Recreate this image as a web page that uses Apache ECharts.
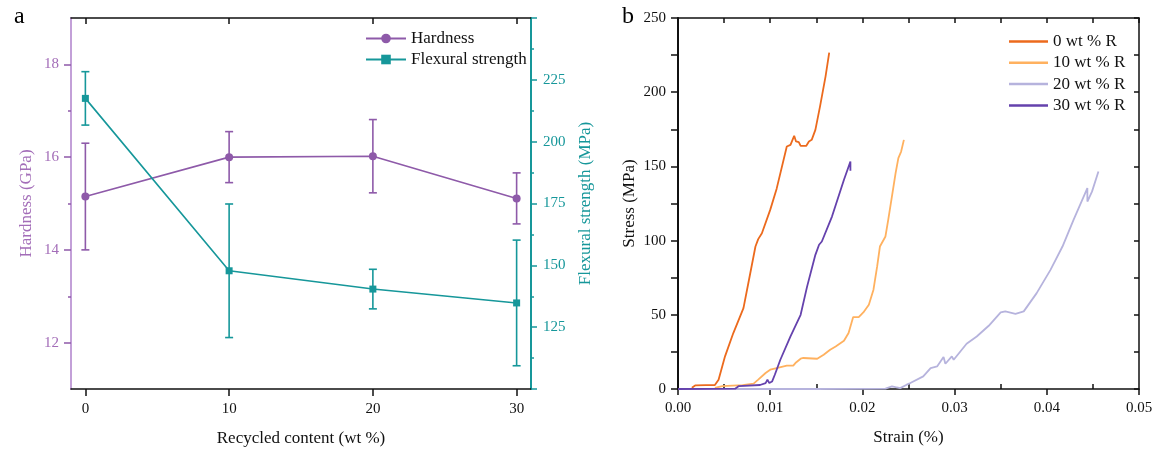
<!DOCTYPE html>
<html>
<head>
<meta charset="utf-8">
<script src="https://cdn.jsdelivr.net/npm/echarts@6/dist/echarts.min.js"></script>
<style>html,body{margin:0;padding:0;background:#fff;}#c{width:1162px;height:452px;}</style>
</head>
<body>
<div id="c"></div>
<script>
// ---------- Panel a data ----------
var recycled = [0, 10, 20, 30];
var hardness = [15.15, 16.0, 16.02, 15.11];
var hardnessErr = [1.15, 0.55, 0.79, 0.55];
var flexural = [217.5, 147.8, 140.4, 134.8];
var flexuralErr = [10.8, 27.0, 8.0, 25.4];
var recycledTicks = [0, 10, 20, 30];
var hardnessTicks = [12, 14, 16, 18];
var hardnessMinorTicks = [13, 15, 17];

// ---------- Panel b data (strain %, stress MPa) ----------
var curve0 = [[0.0015,0.8],[0.0019,2.5],[0.0030,2.6],[0.0040,2.7],[0.0044,6.3],[0.0051,22],[0.0060,37.7],[0.0071,54.5],[0.0077,73.6],[0.0084,96],[0.0087,101],[0.0091,105],[0.0100,120.7],[0.0107,135],[0.0118,163.4],[0.0122,164.5],[0.0126,170.6],[0.0128,166.8],[0.0131,166.3],[0.0133,163.8],[0.0139,163.8],[0.0142,166.8],[0.0145,167.9],[0.0149,174.6],[0.0154,190.3],[0.0160,210.5],[0.0164,226.7]];
var curve10 = [[0.0040,0.8],[0.0048,2.0],[0.0070,2.6],[0.0082,3.6],[0.0087,6.3],[0.0095,10.8],[0.0100,13],[0.0107,14.1],[0.0118,15.7],[0.0125,15.7],[0.0128,17.9],[0.0133,20.4],[0.0136,20.9],[0.0151,20.4],[0.0158,23.1],[0.0165,26.5],[0.0171,28.7],[0.0180,32.5],[0.0185,37.7],[0.0190,48.5],[0.0196,48.5],[0.0201,51.6],[0.0207,56.8],[0.0212,66.9],[0.0216,82.6],[0.0219,96],[0.0222,99.4],[0.0225,102.8],[0.0228,114],[0.0232,129.7],[0.0236,145.5],[0.0239,155.6],[0.0242,160],[0.0245,167.9]];
var curve20 = [[0,0],[0.0150,0],[0.0225,0.3],[0.0232,1.7],[0.0236,1.2],[0.0241,0.6],[0.0248,2.9],[0.0252,4],[0.0266,8.5],[0.0274,14.1],[0.0281,15.2],[0.0288,21.5],[0.0290,17],[0.0297,22],[0.0299,19.7],[0.0313,30.5],[0.0324,35.4],[0.0337,42.6],[0.0350,51.6],[0.0355,52.3],[0.0357,53.4],[0.0366,50.7],[0.0375,52.3],[0.0389,64.6],[0.0404,80.3],[0.0417,96],[0.0429,114],[0.0444,135.4],[0.0444,126.3],[0.0449,133],[0.0456,146.5]];
var curve30 = [[0,0],[0.0062,0.2],[0.0064,1.3],[0.0066,2],[0.0089,2.7],[0.0095,4],[0.0097,6.3],[0.0099,4],[0.0102,5],[0.0105,9.6],[0.0111,19.7],[0.0122,35.4],[0.0133,50],[0.0140,69],[0.0149,90.4],[0.0153,97.2],[0.0156,99.4],[0.0167,116.2],[0.0180,141],[0.0187,153.3],[0.0187,147]];
var strainMinorTicks = [0.005, 0.015, 0.025, 0.035, 0.045];
var curveNames = ['0 wt % R', '10 wt % R', '20 wt % R', '30 wt % R'];

var SERIF = '"Liberation Serif", "DejaVu Serif", serif';
var PURPLE = '#8e5aa9', TEAL = '#16979a', PURPLE_AX = '#c3a0d8', PURPLE_TXT = '#a36db8';
var curveColors = ['#ec6a1d', '#ffb15f', '#b6b3dd', '#6542ad'];

function errSeries(x, y, e, yIdx, color) {
  var data = x.map(function (v, i) { return [v, y[i], e[i]]; });
  return {
    type: 'custom', xAxisIndex: 0, yAxisIndex: yIdx, z: 1, silent: true,
    data: data,
    renderItem: function (params, api) {
      var xv = api.value(0), yv = api.value(1), ev = api.value(2);
      var t = api.coord([xv, yv + ev]), b = api.coord([xv, yv - ev]);
      var w = 4, st = { stroke: color, lineWidth: 1.6 };
      return { type: 'group', children: [
        { type: 'line', shape: { x1: t[0], y1: t[1], x2: b[0], y2: b[1] }, style: st },
        { type: 'line', shape: { x1: t[0] - w, y1: t[1], x2: t[0] + w, y2: t[1] }, style: st },
        { type: 'line', shape: { x1: b[0] - w, y1: b[1], x2: b[0] + w, y2: b[1] }, style: st }
      ]};
    }
  };
}

var chart = echarts.init(document.getElementById('c'), null, { renderer: 'canvas' });
var txt = { fontFamily: SERIF, fontSize: 15, color: '#111' };
var nameTxt = { fontFamily: SERIF, fontSize: 17, color: '#111' };
var blackLine = { show: true, onZero: false, lineStyle: { color: '#111', width: 1.5 } };

var option = {
  backgroundColor: '#fff',
  animation: false,
  textStyle: { fontFamily: SERIF },
  title: [
    { text: 'a', left: 9, top: 0, textStyle: { fontFamily: SERIF, fontSize: 24, fontWeight: 'normal', color: '#000' } },
    { text: 'b', left: 617, top: 0, textStyle: { fontFamily: SERIF, fontSize: 24, fontWeight: 'normal', color: '#000' } }
  ],
  legend: [
    { data: ['Hardness', 'Flexural strength'], orient: 'vertical', left: 360, top: 25, itemWidth: 40, itemHeight: 12, itemGap: 4,
      textStyle: { fontFamily: SERIF, fontSize: 17, color: '#111' } },
    { data: curveNames.map(function (n) { return { name: n, icon: 'rect' }; }), orient: 'vertical', left: 1004, top: 28,
      itemWidth: 39, itemHeight: 2.5, itemGap: 4.3,
      textStyle: { fontFamily: SERIF, fontSize: 17, color: '#111' } }
  ],
  grid: [
    { left: 71, right: 631, top: 18, bottom: 62, containLabel: false },
    { left: 678, right: 23, top: 18, bottom: 63, containLabel: false }
  ],
  xAxis: [
    { gridIndex: 0, type: 'value', position: 'bottom', min: -1, max: 31,
      name: 'Recycled content (wt %)', nameLocation: 'middle', nameGap: 41, nameTextStyle: nameTxt,
      axisLine: blackLine, splitLine: { show: false },
      axisTick: { show: true, inside: false, length: 7, customValues: recycledTicks, lineStyle: { color: '#111', width: 1.5 } },
      axisLabel: Object.assign({ margin: 13, customValues: recycledTicks }, txt) },
    { gridIndex: 0, type: 'value', position: 'top', min: -1, max: 31,
      axisLine: blackLine, splitLine: { show: false },
      axisTick: { show: true, inside: true, length: 6, customValues: recycledTicks, lineStyle: { color: '#111', width: 1.5 } },
      axisLabel: { show: false } },
    { gridIndex: 1, type: 'value', position: 'bottom', min: 0, max: 0.05, interval: 0.01,
      name: 'Strain (%)', nameLocation: 'middle', nameGap: 40, nameTextStyle: nameTxt,
      axisLine: blackLine, splitLine: { show: false },
      axisTick: { show: true, inside: false, length: 6, lineStyle: { color: '#111', width: 1.5 } },
      axisLabel: Object.assign({ margin: 12, formatter: function (v) { return v.toFixed(2); } }, txt) },
    { gridIndex: 1, type: 'value', position: 'bottom', min: 0, max: 0.05,
      axisLine: { show: false }, splitLine: { show: false },
      axisTick: { show: true, inside: true, length: 5, customValues: strainMinorTicks, lineStyle: { color: '#111', width: 1.5 } },
      axisLabel: { show: false } },
    { gridIndex: 1, type: 'value', position: 'top', min: 0, max: 0.05, interval: 0.005,
      axisLine: blackLine, splitLine: { show: false },
      axisTick: { show: true, inside: true, length: 5, lineStyle: { color: '#111', width: 1.5 } },
      axisLabel: { show: false } }
  ],
  yAxis: [
    { gridIndex: 0, type: 'value', position: 'left', min: 11, max: 19,
      name: 'Hardness (GPa)', nameLocation: 'middle', nameGap: 36,
      nameTextStyle: { fontFamily: SERIF, fontSize: 17, color: PURPLE_TXT },
      axisLine: { show: true, onZero: false, lineStyle: { color: PURPLE_AX, width: 2 } }, splitLine: { show: false },
      axisTick: { show: true, inside: false, length: 7, customValues: hardnessTicks, lineStyle: { color: PURPLE, width: 1.5 } },
      axisLabel: { margin: 12, customValues: hardnessTicks, fontFamily: SERIF, fontSize: 15, color: PURPLE_TXT } },
    { gridIndex: 0, type: 'value', position: 'right', min: 100, max: 250, interval: 25,
      name: 'Flexural strength (MPa)', nameLocation: 'middle', nameGap: 46, nameRotate: 90,
      nameTextStyle: { fontFamily: SERIF, fontSize: 17, color: TEAL },
      axisLine: { show: true, onZero: false, lineStyle: { color: TEAL, width: 2 } }, splitLine: { show: false },
      axisTick: { show: true, inside: false, length: 6, lineStyle: { color: TEAL, width: 1.5 } },
      minorTick: { show: true, splitNumber: 2, length: 3, lineStyle: { color: TEAL, width: 1.5 } },
      axisLabel: { margin: 12, showMinLabel: false, showMaxLabel: false, fontFamily: SERIF, fontSize: 15, color: TEAL } },
    { gridIndex: 0, type: 'value', position: 'left', min: 11, max: 19,
      axisLine: { show: false, onZero: false }, splitLine: { show: false },
      axisTick: { show: true, inside: false, length: 3, customValues: hardnessMinorTicks, lineStyle: { color: PURPLE, width: 1.5 } },
      axisLabel: { show: false } },
    { gridIndex: 1, type: 'value', position: 'left', min: 0, max: 250, interval: 50,
      name: 'Stress (MPa)', nameLocation: 'middle', nameGap: 40, nameTextStyle: nameTxt,
      axisLine: { show: true, onZero: false, lineStyle: { color: '#111', width: 2 } }, splitLine: { show: false },
      axisTick: { show: true, inside: false, length: 7, lineStyle: { color: '#111', width: 1.5 } },
      minorTick: { show: true, splitNumber: 2, length: 7, lineStyle: { color: '#111', width: 1.5 } },
      axisLabel: Object.assign({ margin: 12 }, txt) },
    { gridIndex: 1, type: 'value', position: 'right', min: 0, max: 250, interval: 25,
      axisLine: { show: true, onZero: false, lineStyle: { color: '#111', width: 1.5 } }, splitLine: { show: false },
      axisTick: { show: true, inside: true, length: 5, lineStyle: { color: '#111', width: 1.5 } },
      axisLabel: { show: false } }
  ],
  series: [
    errSeries(recycled, hardness, hardnessErr, 0, PURPLE),
    errSeries(recycled, flexural, flexuralErr, 1, TEAL),
    { name: 'Hardness', type: 'line', xAxisIndex: 0, yAxisIndex: 0, z: 3,
      data: recycled.map(function (v, i) { return [v, hardness[i]]; }),
      symbol: 'circle', symbolSize: 8, itemStyle: { color: PURPLE }, lineStyle: { color: PURPLE, width: 1.6 } },
    { name: 'Flexural strength', type: 'line', xAxisIndex: 0, yAxisIndex: 1, z: 3,
      data: recycled.map(function (v, i) { return [v, flexural[i]]; }),
      symbol: 'rect', symbolSize: 7, itemStyle: { color: TEAL }, lineStyle: { color: TEAL, width: 1.6 } }
  ]
};

[curve0, curve10, curve20, curve30].forEach(function (c, i) {
  option.series.push({ name: curveNames[i], type: 'line', xAxisIndex: 2, yAxisIndex: 3,
    data: c, symbol: 'none', showSymbol: false, z: i === 3 ? 4 : 3,
    itemStyle: { color: curveColors[i] }, lineStyle: { color: curveColors[i], width: 1.8 } });
});

chart.setOption(option);
</script>
</body>
</html>
